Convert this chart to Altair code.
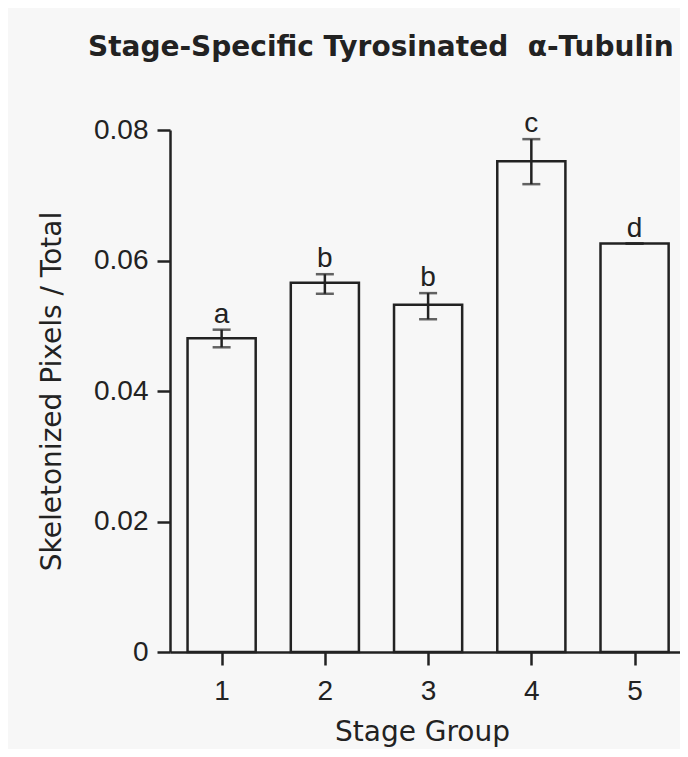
import altair as alt
import pandas as pd

stages = [1, 2, 3, 4, 5]
means = [0.0481, 0.0566, 0.0532, 0.0752, 0.0626]
upper = [0.0494, 0.0579, 0.0550, 0.0786, 0.0626]
lower = [0.0467, 0.0549, 0.0510, 0.0717, 0.0626]
letters = ["a", "b", "b", "c", "d"]
y_ticks = [0, 0.02, 0.04, 0.06, 0.08]

df = pd.DataFrame({"stage": stages, "mean": means, "upper": upper,
                   "lower": lower, "letter": letters})

INK = "#222222"
BG = "#f7f7f7"

xscale = alt.Scale(domain=[0.5, 5.44], nice=False, zero=False)
yscale = alt.Scale(domain=[0, 0.08], nice=False)

xaxis = alt.Axis(values=stages, format="d", grid=False, tickSize=13,
                 labelPadding=12, title="Stage Group", titleX=252, titleY=88,
                 titleAlign="center", titleBaseline="alphabetic",
                 titleFont="DejaVu Sans", titleFontSize=28, titleFontWeight="normal")
yaxis = alt.Axis(values=y_ticks, format=".2~f", grid=False, tickSize=13,
                 labelPadding=9, title="Skeletonized Pixels / Total",
                 titleX=-118, titleY=261, titleAngle=270, titleAlign="center",
                 titleBaseline="middle", titleFont="DejaVu Sans", titleFontSize=28,
                 titleFontWeight="normal")

base = alt.Chart(df)

bars = base.transform_calculate(
    x0="datum.stage - 0.33", x1="datum.stage + 0.33", zero="0"
).mark_bar(fill=BG, stroke=INK, strokeWidth=2.5).encode(
    x=alt.X("x0:Q", scale=xscale, axis=xaxis),
    x2="x1:Q",
    y=alt.Y("mean:Q", scale=yscale, axis=yaxis),
    y2="zero:Q",
)

stem = base.mark_rule(color=INK, strokeWidth=2.5).encode(
    x=alt.X("stage:Q", scale=xscale),
    y=alt.Y("lower:Q", scale=yscale),
    y2="upper:Q",
)

cap_hi = base.mark_tick(color=INK, thickness=2.5, size=18, orient="horizontal").encode(
    x=alt.X("stage:Q", scale=xscale),
    y=alt.Y("upper:Q", scale=yscale),
)
cap_lo = base.mark_tick(color=INK, thickness=2.5, size=18, orient="horizontal").encode(
    x=alt.X("stage:Q", scale=xscale),
    y=alt.Y("lower:Q", scale=yscale),
)

labels = base.mark_text(font="Liberation Sans", fontSize=28, color=INK,
                        baseline="alphabetic", dy=-7).encode(
    x=alt.X("stage:Q", scale=xscale),
    y=alt.Y("upper:Q", scale=yscale),
    text="letter:N",
)

chart = alt.layer(bars, stem, cap_hi, cap_lo, labels).properties(
    width=510, height=522,
    autosize=alt.AutoSizeParams(type="none"),
    padding={"left": 162, "top": 122, "right": 0, "bottom": 97},
    background=BG,
    title=alt.TitleParams(
        "Stage-Specific Tyrosinated\u00a0 \u03b1-Tubulin",
        anchor="start", frame="group", dx=-82, baseline="alphabetic",
        font="DejaVu Sans", fontSize=28, fontWeight="bold", color=INK, offset=26,
    ),
).configure_view(stroke=None).configure_axis(
    domainColor=INK, domainWidth=2.5, tickColor=INK, tickWidth=2.5,
    labelFont="Liberation Sans", labelFontSize=28, labelColor=INK,
    titleColor=INK,
)

chart.save("out.html", embed_options={"renderer": "svg", "actions": False})
